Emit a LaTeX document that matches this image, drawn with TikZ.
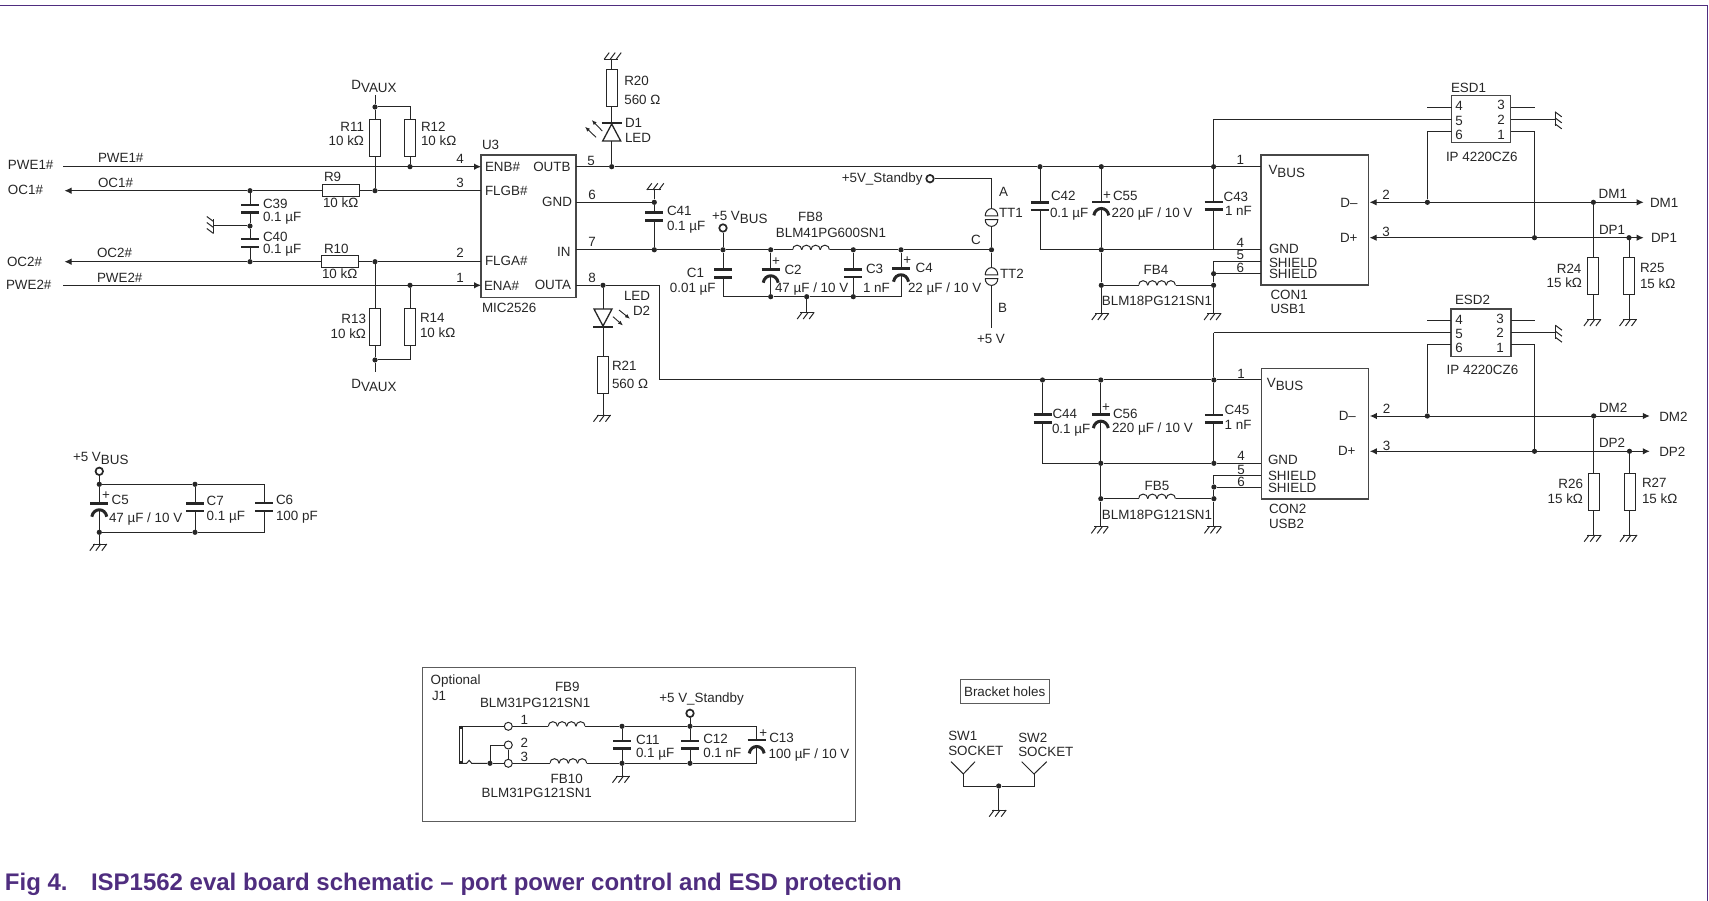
\documentclass[tikz,border=0pt]{standalone}
\usepackage{fontspec}
\setmainfont{Liberation Sans}
\usetikzlibrary{arrows.meta}
\definecolor{nxppurple}{HTML}{4F2D7F}
\definecolor{inkgray}{HTML}{262626}
\newcommand{\lowtxt}[1]{\raisebox{-3.2pt}{#1}}

\tikzset{
  wire/.style={line width=1pt, inkgray},
  arrowed/.style={wire, -{Latex[length=7pt,width=6.5pt]}},
  bothways/.style={wire, {Latex[length=7pt,width=6.5pt]}-{Latex[length=7pt,width=6.5pt]}},
  ray/.style={line width=.9pt, inkgray, -{Latex[length=5pt,width=4pt]}},
  dot/.style={circle, fill=inkgray, inner sep=0pt, minimum size=5.2pt},
  term/.style={circle, draw=inkgray, line width=1.7pt, fill=white, inner sep=0pt, minimum size=7.5pt},
  hole/.style={circle, draw=inkgray, line width=1pt, fill=white, inner sep=0pt, minimum size=8pt},
  resv/.style={draw=inkgray, line width=1pt, fill=white, inner sep=0pt, outer sep=0pt, minimum width=11pt, minimum height=37pt},
  resh/.style={draw=inkgray, line width=1pt, fill=white, inner sep=0pt, outer sep=0pt, minimum width=37pt, minimum height=11.4pt},
  plate/.style={line width=2.6pt, inkgray},
  capv/.style={inner sep=0pt, outer sep=0pt, minimum width=18pt, minimum height=7.7pt,
    append after command={(\tikzlastnode.north west) edge[plate] (\tikzlastnode.north east)
      (\tikzlastnode.south west) edge[plate] (\tikzlastnode.south east)}},
  pcapv/.style={inner sep=0pt, outer sep=0pt, minimum width=18pt, minimum height=13.4pt,
    append after command={(\tikzlastnode.north west) edge[plate] (\tikzlastnode.north east)
      ([xshift=1.5pt]\tikzlastnode.south west) edge[line width=3pt, inkgray, out=80, in=100, looseness=1.6] ([xshift=-1.5pt]\tikzlastnode.south east)}},
  ferrite/.style={inner sep=0pt, outer sep=0pt, minimum width=37pt, minimum height=12pt,
    path picture={\foreach \k in {0,1,2,3}{\draw[wire] ([xshift=\k*9.25pt]path picture bounding box.west) arc[start angle=180, end angle=0, radius=4.625pt];}}},
  chip/.style={draw=inkgray!85, line width=1.1pt, inner sep=0pt, outer sep=0pt},
  txt/.style={inner sep=0pt, outer sep=0pt, text=inkgray, text height=9.6pt, text depth=0pt, font=\fontsize{13.4}{16}\selectfont},
  lbl/.style={txt, anchor=west},
  lbe/.style={txt, anchor=east},
  lbm/.style={txt},
  capttl/.style={txt, anchor=west, text=nxppurple, text height=15pt, font=\fontsize{24}{28}\selectfont\bfseries},
  gnd/.pic={
    \coordinate (-t) at (0,0);
    \draw[wire] (-6.5,0) -- (7.5,0);
    \draw[wire] (-4.5,0) -- (-9.5,6.7) (1.5,0) -- (-3.5,6.7) (7.5,0) -- (2.5,6.7);
  },
  led/.pic={
    \coordinate (-k) at (0,-9.3);
    \coordinate (-a) at (0,9);
    \draw[line width=1.3pt, inkgray, fill=white] (-9,9) -- (9,9) -- (0,-8) -- cycle;
    \draw[line width=2.2pt, inkgray] (-10,-9.3) -- (10,-9.3);
  },
  testp/.pic={
    \coordinate (-a) at (0,-8.9);
    \coordinate (-b) at (0,8.9);
    \draw[wire] (-6.3,-1.6) -- (6.3,-1.6) arc[start angle=0, end angle=180, x radius=6.3pt, y radius=7.3pt];
    \draw[wire] (-6.3,2.2) -- (6.3,2.2) arc[start angle=0, end angle=-180, x radius=6.3pt, y radius=6.7pt];
  }
}

\begin{document}
\begin{tikzpicture}[x=1pt, y=-1pt]
\useasboundingbox (0,0) rectangle (1709,901);

% Frame and caption
\draw[nxppurple, line width=1.5pt] (0,5.5) -- (1707.6,5.5) -- (1707.6,901);
\node[capttl] (figno) at (5,883) {Fig 4.};
\node[capttl] (figtitle) at (91,883) {ISP1562 eval board schematic – port power control and ESD protection};

% U3
\node[chip, minimum width=95pt, minimum height=142.3pt] (U3) at (528.5,226.15) {};
\node[lbl] (tU3) at (482,145) {U3};
\node[lbl] (tMIC) at (482,308) {MIC2526};
\node[lbl] (tENB) at (485,167) {ENB\#};
\node[lbl] (tFLGB) at (485,191) {FLGB\#};
\node[lbl] (tFLGA) at (485,261) {FLGA\#};
\node[lbl] (tENA) at (484,286) {ENA\#};
\node[lbe] (tOUTB) at (570.5,167) {OUTB};
\node[lbe] (tGND) at (572,202) {GND};
\node[lbe] (tIN) at (570.5,251.7) {IN};
\node[lbe] (tOUTA) at (571,285) {OUTA};
\coordinate (u3enb) at (481,166.7);
\coordinate (u3flgb) at (481,190.7);
\coordinate (u3flga) at (481,261.7);
\coordinate (u3ena) at (481,285.3);
\coordinate (u3outb) at (576,166.7);
\coordinate (u3gnd) at (576,202.3);
\coordinate (u3in) at (576,249.8);
\coordinate (u3outa) at (576,285.3);
\node[lbm] (tp4) at (460,159) {4};
\node[lbm] (tp3) at (460,183) {3};
\node[lbm] (tp2) at (460,253) {2};
\node[lbm] (tp1) at (460,278) {1};
\node[lbm] (tp5) at (591,160.7) {5};
\node[lbm] (tp6) at (592,195) {6};
\node[lbm] (tp7) at (592,242) {7};
\node[lbm] (tp8) at (592,278) {8};

% Left inputs and outputs
\node[lbl] (tPWE1o) at (8,165) {PWE1\#};
\node[lbl] (tOC1o) at (8,189.5) {OC1\#};
\node[lbl] (tOC2o) at (7,261.7) {OC2\#};
\node[lbl] (tPWE2o) at (6,285) {PWE2\#};
\node[lbl] (tPWE1n) at (98,158) {PWE1\#};
\node[lbl] (tOC1n) at (98,183) {OC1\#};
\node[lbl] (tOC2n) at (97,253) {OC2\#};
\node[lbl] (tPWE2n) at (97,277.5) {PWE2\#};
\coordinate (pwe1in) at (63.3,166.7);
\coordinate (oc1out) at (64.5,190.7);
\coordinate (oc2out) at (64.5,261.7);
\coordinate (pwe2in) at (63.3,285.3);
\draw[arrowed] (pwe1in) -- (u3enb);
\draw[arrowed] (pwe2in) -- (u3ena);

% Pull ups
\node[dot] (jtop) at (375,107) {};
\node[dot] (jbot) at (375,360) {};
\node[dot] (jR12) at (410,166.7) {};
\node[dot] (jR9) at (375,190.7) {};
\node[dot] (jC39) at (250,190.7) {};
\node[dot] (jmid) at (250,226) {};
\node[dot] (jC40) at (250,261.7) {};
\node[dot] (jR10) at (375,261.7) {};
\node[dot] (jR14) at (410,285.3) {};
\coordinate (dvauxT) at (375,95);
\coordinate (dvauxB) at (375,372);
\coordinate (cnrT) at (410,107);
\coordinate (cnrB) at (410,360);
\node[resv] (R11) at (375,138.5) {};
\node[resv] (R12) at (410,138.5) {};
\node[resv] (R13) at (375,327.3) {};
\node[resv] (R14) at (410,327.3) {};
\node[resh] (R9) at (340.8,190.7) {};
\node[resh] (R10) at (339.5,261.7) {};
\node[capv] (C39) at (250,208.9) {};
\node[capv] (C40) at (250,243) {};
\pic[rotate=-90] (g39) at (213.5,226) {gnd};
\draw[wire] (dvauxT) -- (jtop) -- (R11) -- (jR9);
\draw[wire] (jtop) -- (cnrT) -- (R12) -- (jR12);
\draw[wire] (jR10) -- (R13) -- (jbot) -- (dvauxB);
\draw[wire] (jR14) -- (R14) -- (cnrB) -- (jbot);
\draw[wire] (u3flgb) -- (jR9) -- (R9) -- (jC39);
\draw[arrowed] (jC39) -- (oc1out);
\draw[wire] (u3flga) -- (jR10) -- (R10) -- (jC40);
\draw[arrowed] (jC40) -- (oc2out);
\draw[wire] (jC39) -- (C39) -- (jmid) -- (C40) -- (jC40);
\draw[wire] (jmid) -- (g39-t);
\node[lbm] (tDVt) at (374,85) {D\lowtxt{VAUX}};
\node[lbm] (tDVb) at (374,384) {D\lowtxt{VAUX}};
\node[lbe] (tR11a) at (364,127) {R11};
\node[lbe] (tR11b) at (364,141) {10 kΩ};
\node[lbl] (tR12a) at (421,127) {R12};
\node[lbl] (tR12b) at (421,141) {10 kΩ};
\node[lbe] (tR13a) at (366,319) {R13};
\node[lbe] (tR13b) at (366,334) {10 kΩ};
\node[lbl] (tR14a) at (420,318) {R14};
\node[lbl] (tR14b) at (420,333) {10 kΩ};
\node[lbl] (tR9a) at (324,177) {R9};
\node[lbl] (tR9b) at (323,203) {10 kΩ};
\node[lbl] (tR10a) at (324,249) {R10};
\node[lbl] (tR10b) at (322,274) {10 kΩ};
\node[lbl] (tC39a) at (263,204) {C39};
\node[lbl] (tC39b) at (263,216.7) {0.1 µF};
\node[lbl] (tC40a) at (263,237) {C40};
\node[lbl] (tC40b) at (263,249) {0.1 µF};

% LEDs
\pic (g20) at (611.7,59.3) [rotate=180] {gnd};
\node[resv] (R20) at (611.7,87.6) {};
\pic (D1) at (611.7,132) {led};
\node[dot] (jD1) at (611.7,166.7) {};
\draw[wire] (g20-t) -- (R20) -- (D1-k);
\draw[wire] (D1-a) -- (jD1);
\draw[ray] (602.3,131) -- (591.7,120);
\draw[ray] (596,137.3) -- (585,126.7);
\node[lbl] (tR20a) at (624.3,80.7) {R20};
\node[lbl] (tR20b) at (624.3,99.3) {560 Ω};
\node[lbl] (tD1a) at (625,122.3) {D1};
\node[lbl] (tD1b) at (625,137.3) {LED};
\node[dot] (jOutA) at (603,285.3) {};
\pic[rotate=180] (D2) at (603,318) {led};
\node[resv] (R21) at (603,375) {};
\pic (g21) at (603,415) {gnd};
\draw[wire] (jOutA) -- (D2-a);
\draw[wire] (D2-k) -- (R21) -- (g21-t);
\draw[ray] (613,316.7) -- (623,325.5);
\draw[ray] (619,310) -- (630,318.8);
\node[lbl] (tD2a) at (624,295.3) {LED};
\node[lbl] (tD2b) at (633,310.3) {D2};
\node[lbl] (tR21a) at (612,365.3) {R21};
\node[lbl] (tR21b) at (612,383.3) {560 Ω};

% Input filter
\node[dot] (jC41t) at (654.3,202.3) {};
\node[dot] (jC41b) at (654.3,249.8) {};
\node[dot] (j5v) at (723,249.8) {};
\node[dot] (jC2t) at (770.7,249.8) {};
\node[dot] (jC3t) at (853.3,249.8) {};
\node[dot] (jC4t) at (901,249.8) {};
\node[dot] (jTT) at (991.5,249.8) {};
\node[dot] (jC2b) at (770.7,296.7) {};
\node[dot] (jfgnd) at (806.7,296.7) {};
\node[dot] (jC3b) at (853.3,296.7) {};
\coordinate (cC1b) at (723,296.7);
\coordinate (cC4b) at (901,296.7);
\node[term] (t5vbus) at (723,228) {};
\node[capv] (C41) at (654.3,216.5) {};
\node[capv] (C1) at (723,273.5) {};
\node[pcapv] (C2) at (770.7,276) {};
\node[capv] (C3) at (853.3,273.1) {};
\node[pcapv] (C4) at (901,275) {};
\node[ferrite] (FB8) at (811,249.8) {};
\pic[rotate=180] (g41) at (654.3,190) {gnd};
\pic (gf) at (806.7,312.3) {gnd};
\draw[wire] (u3gnd) -- (jC41t);
\draw[wire] (g41-t) -- (jC41t) -- (C41) -- (jC41b);
\draw[wire] (u3in) -- (jC41b) -- (j5v) -- (jC2t) -- (FB8.west);
\draw[wire] (FB8.east) -- (jC3t) -- (jC4t) -- (jTT);
\draw[wire] (t5vbus) -- (j5v) -- (C1) -- (cC1b) -- (jC2b) -- (jfgnd) -- (jC3b) -- (cC4b);
\draw[wire] (jC2t) -- (C2);
\draw[wire] (C2.center) -- (jC2b);
\draw[wire] (jC3t) -- (C3) -- (jC3b);
\draw[wire] (jC4t) -- (C4);
\draw[wire] (C4.center) -- (cC4b);
\draw[wire] (jfgnd) -- (gf-t);
\node[lbl] (tC41a) at (667,211) {C41};
\node[lbl] (tC41b) at (667,226) {0.1 µF};
\node[lbl] (t5vb) at (712,216) {+5 V\lowtxt{BUS}};
\node[lbe] (tC1a) at (704,273) {C1};
\node[lbe] (tC1b) at (715.6,287.7) {0.01 µF};
\node[lbm] (tC2p) at (776,261) {+};
\node[lbl] (tC2a) at (784.5,269.3) {C2};
\node[lbl] (tC2b) at (775,287.3) {47 µF / 10 V};
\node[lbl] (tC3a) at (866,268.3) {C3};
\node[lbl] (tC3b) at (863,287.3) {1 nF};
\node[lbm] (tC4p) at (907.3,260) {+};
\node[lbl] (tC4a) at (915.7,268) {C4};
\node[lbl] (tC4b) at (908,287.3) {22 µF / 10 V};
\node[lbm] (tFB8a) at (810.5,216.7) {FB8};
\node[lbm] (tFB8b) at (831,232.7) {BLM41PG600SN1};

% Test points
\node[term] (t5vs) at (930,178.7) {};
\coordinate (cTT) at (991.5,178.7);
\pic (TT1) at (991.5,217.5) {testp};
\pic (TT2) at (991.5,276.5) {testp};
\coordinate (e5v) at (991.5,327.7);
\draw[wire] (t5vs) -- (cTT) -- (TT1-a);
\draw[wire] (TT1-b) -- (jTT) -- (TT2-a);
\draw[wire] (TT2-b) -- (e5v);
\node[lbe] (t5vst) at (922.6,178) {+5V\_Standby};
\node[lbl] (tA) at (999,191.7) {A};
\node[lbl] (tTT1) at (999,213) {TT1};
\node[lbl] (tC) at (971,239.3) {C};
\node[lbl] (tTT2) at (1000,274) {TT2};
\node[lbl] (tB) at (998,308) {B};
\node[lbl] (t5v) at (977,339) {+5 V};

% USB1 power
\node[dot] (jC42) at (1040,166.7) {};
\node[dot] (jC55) at (1101.3,166.7) {};
\node[dot] (jC43) at (1213.6,166.7) {};
\node[dot] (jC55b) at (1101.3,249.8) {};
\node[dot] (jFB4l) at (1101.3,285.3) {};
\node[dot] (jFB4r) at (1213.6,285.3) {};
\node[dot] (js6a) at (1213.6,273.7) {};
\coordinate (cC42b) at (1040,249.8);
\coordinate (cC43b) at (1213.6,249.8);
\coordinate (cs5a) at (1213.6,261.7);
\coordinate (cvba) at (1213.6,119.3);
\node[capv] (C42) at (1040,206.2) {};
\node[pcapv] (C55) at (1101.3,208.7) {};
\node[capv] (C43) at (1213.6,205.8) {};
\node[ferrite] (FB4) at (1157,285.3) {};
\pic (g55) at (1101.3,313.3) {gnd};
\pic (gs1) at (1213.6,313.3) {gnd};
\node[chip, minimum width=107.4pt, minimum height=130pt] (CON1) at (1314.7,220) {};
\coordinate (con1v) at (1261,166.7);
\coordinate (con1g) at (1261,249.8);
\coordinate (con1s5) at (1261,261.7);
\coordinate (con1s6) at (1261,273.7);
\coordinate (con1dm) at (1369.6,202.3);
\coordinate (con1dp) at (1369.6,237.7);
\draw[wire] (u3outb) -- (jD1) -- (jC42) -- (jC55) -- (jC43) -- (con1v);
\draw[wire] (jC42) -- (C42) -- (cC42b) -- (jC55b) -- (cC43b) -- (con1g);
\draw[wire] (jC55) -- (C55);
\draw[wire] (C55.center) -- (jC55b) -- (jFB4l) -- (g55-t);
\draw[wire] (jFB4l) -- (FB4.west);
\draw[wire] (FB4.east) -- (jFB4r) -- (gs1-t);
\draw[wire] (cvba) -- (jC43) -- (C43) -- (cC43b);
\draw[wire] (con1s5) -- (cs5a) -- (js6a) -- (jFB4r);
\draw[wire] (js6a) -- (con1s6);
\node[lbl] (tC42a) at (1051,195.3) {C42};
\node[lbl] (tC42b) at (1050,212.3) {0.1 µF};
\node[lbm] (tC55p) at (1107,195) {+};
\node[lbl] (tC55a) at (1113,195.3) {C55};
\node[lbl] (tC55b) at (1111.7,212.3) {220 µF / 10 V};
\node[lbl] (tC43a) at (1223.6,196.7) {C43};
\node[lbl] (tC43b) at (1225,210.7) {1 nF};
\node[lbm] (tFB4a) at (1156,269.3) {FB4};
\node[lbm] (tFB4b) at (1157,301) {BLM18PG121SN1};
\node[lbm] (tq1) at (1240.4,160) {1};
\node[lbm] (tq4) at (1240.4,242.7) {4};
\node[lbm] (tq5) at (1240.4,255) {5};
\node[lbm] (tq6) at (1240.4,267.7) {6};
\node[lbl] (tV1) at (1268.5,169.7) {V\lowtxt{BUS}};
\node[lbl] (tG1) at (1269,248.3) {GND};
\node[lbl] (tS15) at (1269,262.3) {SHIELD};
\node[lbl] (tS16) at (1269,274) {SHIELD};
\node[lbe] (tDm1) at (1357.6,202.7) {D–};
\node[lbl] (tDp1) at (1340,237.3) {D+};
\node[lbl] (tCON1) at (1270.5,294.3) {CON1};
\node[lbl] (tUSB1) at (1270.5,309) {USB1};

% USB1 data and ESD
\node[chip, minimum width=59.3pt, minimum height=47pt] (ESD1) at (1481.15,119.2) {};
\coordinate (e1p4) at (1451.5,107.3);
\coordinate (e1p5) at (1451.5,119.3);
\coordinate (e1p6) at (1451.5,131.3);
\coordinate (e1p3) at (1510.8,107.3);
\coordinate (e1p2) at (1510.8,119.3);
\coordinate (e1p1) at (1510.8,131.3);
\coordinate (e1s4) at (1427.4,107.3);
\coordinate (e1c6) at (1427.4,131.3);
\coordinate (e1s3) at (1534.5,107.3);
\coordinate (e1c1) at (1534.5,131.3);
\coordinate (dm1e) at (1643.6,202.3);
\coordinate (dp1e) at (1643.6,237.7);
\pic[rotate=90] (ge1) at (1555,119.3) {gnd};
\draw[bothways] (con1dm) -- (dm1e);
\draw[bothways] (con1dp) -- (dp1e);
\node[dot] (jdm1) at (1427.4,202.3) {};
\node[dot] (jdp1) at (1534.5,237.7) {};
\node[dot] (jR24) at (1593.4,202.3) {};
\node[dot] (jR25) at (1629,237.7) {};
\node[resv] (R24) at (1593.4,275.9) {};
\node[resv] (R25) at (1629,275.9) {};
\pic (g24) at (1593.4,319.3) {gnd};
\pic (g25) at (1629,319.3) {gnd};
\draw[wire] (cvba) -- (e1p5);
\draw[wire] (e1s4) -- (e1p4);
\draw[wire] (e1p6) -- (e1c6) -- (jdm1);
\draw[wire] (e1p3) -- (e1s3);
\draw[wire] (e1p2) -- (ge1-t);
\draw[wire] (e1p1) -- (e1c1) -- (jdp1);
\draw[wire] (jR24) -- (R24) -- (g24-t);
\draw[wire] (jR25) -- (R25) -- (g25-t);
\node[lbl] (tESD1) at (1451,87.3) {ESD1};
\node[lbl] (tIP1) at (1446,156.7) {IP 4220CZ6};
\node[lbm] (te14) at (1459,106) {4};
\node[lbm] (te15) at (1459,120.7) {5};
\node[lbm] (te16) at (1459,134.3) {6};
\node[lbm] (te13) at (1501,105) {3};
\node[lbm] (te12) at (1501,119.3) {2};
\node[lbm] (te11) at (1501,134.3) {1};
\node[lbm] (tr12) at (1386,194.7) {2};
\node[lbm] (tr13) at (1386,231.7) {3};
\node[lbl] (tDM1n) at (1598.7,193.3) {DM1};
\node[lbl] (tDP1n) at (1599,229.3) {DP1};
\node[lbl] (tDM1o) at (1650,202.7) {DM1};
\node[lbl] (tDP1o) at (1651,237.7) {DP1};
\node[lbe] (tR24a) at (1581.4,268.3) {R24};
\node[lbe] (tR24b) at (1582,282.3) {15 kΩ};
\node[lbl] (tR25a) at (1640,267.7) {R25};
\node[lbl] (tR25b) at (1640,283.3) {15 kΩ};

% USB2 power
\coordinate (cOutA) at (659.3,285.3);
\coordinate (cVb2) at (659.3,380);
\node[dot] (jC44) at (1042.5,380) {};
\node[dot] (jC56) at (1100.8,380) {};
\node[dot] (jC45) at (1213.9,380) {};
\node[dot] (jC56b) at (1100.8,463.3) {};
\node[dot] (jC45b) at (1213.9,463.3) {};
\node[dot] (jFB5l) at (1100.8,498.7) {};
\node[dot] (jFB5r) at (1213.9,498.7) {};
\node[dot] (js6b) at (1213.9,487) {};
\coordinate (cC44b) at (1042.5,463.3);
\coordinate (cs5b) at (1213.9,475);
\coordinate (cvbb) at (1213.9,332.7);
\node[capv] (C44) at (1042.5,418.5) {};
\node[pcapv] (C56) at (1100.8,421.4) {};
\node[capv] (C45) at (1213.9,418.8) {};
\node[ferrite] (FB5) at (1157,498.7) {};
\pic (g56) at (1100.8,526.7) {gnd};
\pic (gs2) at (1213.9,526.7) {gnd};
\node[chip, minimum width=107.1pt, minimum height=130.7pt] (CON2) at (1314.95,433.65) {};
\coordinate (con2v) at (1261.4,380);
\coordinate (con2g) at (1261.4,463.3);
\coordinate (con2s5) at (1261.4,475);
\coordinate (con2s6) at (1261.4,487);
\coordinate (con2dm) at (1369.9,416);
\coordinate (con2dp) at (1369.9,451.3);
\draw[wire] (u3outa) -- (jOutA) -- (cOutA) -- (cVb2) -- (jC44) -- (jC56) -- (jC45) -- (con2v);
\draw[wire] (jC44) -- (C44) -- (cC44b) -- (jC56b) -- (jC45b) -- (con2g);
\draw[wire] (jC56) -- (C56);
\draw[wire] (C56.center) -- (jC56b) -- (jFB5l) -- (g56-t);
\draw[wire] (jFB5l) -- (FB5.west);
\draw[wire] (FB5.east) -- (jFB5r) -- (gs2-t);
\draw[wire] (cvbb) -- (jC45) -- (C45) -- (jC45b);
\draw[wire] (con2s5) -- (cs5b) -- (js6b) -- (jFB5r);
\draw[wire] (js6b) -- (con2s6);
\node[lbl] (tC44a) at (1052.5,413.3) {C44};
\node[lbl] (tC44b) at (1052,428.7) {0.1 µF};
\node[lbm] (tC56p) at (1106,406.7) {+};
\node[lbl] (tC56a) at (1113,413.3) {C56};
\node[lbl] (tC56b) at (1112,427.3) {220 µF / 10 V};
\node[lbl] (tC45a) at (1224.7,410) {C45};
\node[lbl] (tC45b) at (1224.7,424.3) {1 nF};
\node[lbm] (tFB5a) at (1157,485.3) {FB5};
\node[lbm] (tFB5b) at (1157,514.3) {BLM18PG121SN1};
\node[lbm] (tw1) at (1241,374) {1};
\node[lbm] (tw4) at (1241,456) {4};
\node[lbm] (tw5) at (1241,469.3) {5};
\node[lbm] (tw6) at (1241,482) {6};
\node[lbl] (tV2) at (1266.8,383) {V\lowtxt{BUS}};
\node[lbl] (tG2) at (1268,460) {GND};
\node[lbl] (tS25) at (1268,475.3) {SHIELD};
\node[lbl] (tS26) at (1268,487.7) {SHIELD};
\node[lbe] (tDm2) at (1355.9,416) {D–};
\node[lbl] (tDp2) at (1338,450.7) {D+};
\node[lbl] (tCON2) at (1269,508.3) {CON2};
\node[lbl] (tUSB2) at (1269,523.3) {USB2};

% USB2 data and ESD
\node[chip, minimum width=60pt, minimum height=47.7pt] (ESD2) at (1481,332.85) {};
\coordinate (e2p4) at (1451,320.7);
\coordinate (e2p5) at (1451,332.7);
\coordinate (e2p6) at (1451,344.7);
\coordinate (e2p3) at (1511,320.7);
\coordinate (e2p2) at (1511,332.7);
\coordinate (e2p1) at (1511,344.7);
\coordinate (e2s4) at (1427.3,320.7);
\coordinate (e2c6) at (1427.3,344.7);
\coordinate (e2s3) at (1534.5,320.7);
\coordinate (e2c1) at (1534.5,344.7);
\coordinate (dm2e) at (1649.8,416);
\coordinate (dp2e) at (1649.8,451.3);
\pic[rotate=90] (ge2) at (1555.3,332.7) {gnd};
\draw[bothways] (con2dm) -- (dm2e);
\draw[bothways] (con2dp) -- (dp2e);
\node[dot] (jdm2) at (1427.3,416) {};
\node[dot] (jdp2) at (1534.5,451.3) {};
\node[dot] (jR26) at (1593.7,416) {};
\node[dot] (jR27) at (1629.5,451.3) {};
\node[resv] (R26) at (1593.7,491.7) {};
\node[resv] (R27) at (1629.5,491.7) {};
\pic (g26) at (1593.7,535) {gnd};
\pic (g27) at (1629.5,535) {gnd};
\draw[wire] (cvbb) -- (e2p5);
\draw[wire] (e2s4) -- (e2p4);
\draw[wire] (e2p6) -- (e2c6) -- (jdm2);
\draw[wire] (e2p3) -- (e2s3);
\draw[wire] (e2p2) -- (ge2-t);
\draw[wire] (e2p1) -- (e2c1) -- (jdp2);
\draw[wire] (jR26) -- (R26) -- (g26-t);
\draw[wire] (jR27) -- (R27) -- (g27-t);
\node[lbl] (tESD2) at (1455,299.3) {ESD2};
\node[lbl] (tIP2) at (1446.7,369.3) {IP 4220CZ6};
\node[lbm] (te24) at (1459,319.3) {4};
\node[lbm] (te25) at (1459,333.3) {5};
\node[lbm] (te26) at (1459,347.7) {6};
\node[lbm] (te23) at (1500,318.3) {3};
\node[lbm] (te22) at (1500,332.3) {2};
\node[lbm] (te21) at (1500,347.7) {1};
\node[lbm] (tr22) at (1386.6,409) {2};
\node[lbm] (tr23) at (1386.6,445.3) {3};
\node[lbl] (tDM2n) at (1599,407.3) {DM2};
\node[lbl] (tDP2n) at (1599,442.7) {DP2};
\node[lbl] (tDM2o) at (1659.3,416.3) {DM2};
\node[lbl] (tDP2o) at (1659.3,451.7) {DP2};
\node[lbe] (tR26a) at (1583,483.3) {R26};
\node[lbe] (tR26b) at (1583,498.7) {15 kΩ};
\node[lbl] (tR27a) at (1642,482.3) {R27};
\node[lbl] (tR27b) at (1642,498.7) {15 kΩ};

% Bulk capacitors
\node[term] (t5vc) at (99.3,471.3) {};
\node[dot] (jC5t) at (99.3,484.3) {};
\node[dot] (jC7t) at (195,484.3) {};
\node[dot] (jC5b) at (99.3,532.3) {};
\node[dot] (jC7b) at (195,532.3) {};
\coordinate (cC6t) at (264,484.3);
\coordinate (cC6b) at (264,532.3);
\node[pcapv] (C5) at (99.3,510) {};
\node[capv] (C7) at (195,507.3) {};
\node[capv] (C6) at (264,507) {};
\pic (g5) at (99.3,544) {gnd};
\draw[wire] (t5vc) -- (jC5t) -- (C5);
\draw[wire] (C5.center) -- (jC5b) -- (g5-t);
\draw[wire] (jC5t) -- (jC7t) -- (cC6t) -- (C6) -- (cC6b) -- (jC7b) -- (jC5b);
\draw[wire] (jC7t) -- (C7) -- (jC7b);
\node[lbl] (t5vd) at (73,456.7) {+5 V\lowtxt{BUS}};
\node[lbm] (tC5p) at (106,495) {+};
\node[lbl] (tC5a) at (111.7,499.3) {C5};
\node[lbl] (tC5b) at (109,517.3) {47 µF / 10 V};
\node[lbl] (tC7a) at (206.7,501) {C7};
\node[lbl] (tC7b) at (206.7,515.3) {0.1 µF};
\node[lbl] (tC6a) at (276,500) {C6};
\node[lbl] (tC6b) at (276,515.3) {100 pF};

% J1 option
\node[chip, draw=inkgray!75, minimum width=432.6pt, minimum height=154.4pt] (J1box) at (639,744.5) {};
\coordinate (barT) at (460.7,726.3);
\coordinate (barB) at (460.7,763.3);
\node[hole] (h1) at (508.3,726.3) {};
\node[hole] (h2) at (508.3,745) {};
\node[hole] (h3) at (508.3,763.3) {};
\node[dot] (j23) at (490,763.3) {};
\coordinate (c23) at (490,745);
\node[ferrite] (FB9) at (566.7,726.3) {};
\node[ferrite] (FB10) at (568.3,763.3) {};
\node[dot] (jC11t) at (622,726.3) {};
\node[dot] (jC12t) at (690,726.3) {};
\node[dot] (jC11b) at (622,763.3) {};
\node[dot] (jC12b) at (690,763.3) {};
\coordinate (cC13t) at (756.7,726.3);
\coordinate (cC13b) at (756.7,763.3);
\node[term] (t5vj) at (690,713.3) {};
\node[capv] (C11) at (622,744.7) {};
\node[capv] (C12) at (690,744.7) {};
\node[pcapv] (C13) at (756.7,746.7) {};
\pic (g11) at (622,776) {gnd};
\draw[wire] (barT) -- (h1);
\draw[wire] (h1) -- (FB9.west);
\draw[wire] (FB9.east) -- (jC11t) -- (jC12t) -- (cC13t) -- (C13);
\draw[wire] (C13.center) -- (cC13b) -- (jC12b) -- (jC11b) -- (FB10.east);
\draw[wire] (FB10.west) -- (h3) -- (h2);
\draw[wire] (h3) -- (j23);
\draw[wire] (j23) -- (c23) -- (h2);
\draw[wire] (j23) -- (471.7,763.3) -- (469.2,760.4) -- (466.7,763.3) -- (barB);
\draw[line width=3pt, inkgray] (460.7,725.5) -- (460.7,729);
\draw[line width=3pt, inkgray] (460.7,760.5) -- (460.7,764);
\draw[wire] (459.2,726.3) rectangle (462.2,763.3);
\draw[wire] (t5vj) -- (jC12t) -- (C12) -- (jC12b);
\draw[wire] (jC11t) -- (C11) -- (jC11b) -- (g11-t);
\node[lbl] (tOpt) at (430.7,679.3) {Optional};
\node[lbl] (tJ1) at (432,696) {J1};
\node[lbm] (tFB9a) at (567.3,686.7) {FB9};
\node[lbl] (tFB9b) at (480,702.3) {BLM31PG121SN1};
\node[lbl] (t5vsj) at (659.3,697.7) {+5 V\_Standby};
\node[lbl] (th1) at (520.5,720) {1};
\node[lbl] (th2) at (520.5,742.7) {2};
\node[lbl] (th3) at (520.5,756.7) {3};
\node[lbm] (tFB10a) at (566.7,778.3) {FB10};
\node[lbl] (tFB10b) at (481.7,792.7) {BLM31PG121SN1};
\node[lbl] (tC11a) at (636,740) {C11};
\node[lbl] (tC11b) at (636,752.7) {0.1 µF};
\node[lbl] (tC12a) at (703.3,738.3) {C12};
\node[lbl] (tC12b) at (703.3,752.7) {0.1 nF};
\node[lbm] (tC13p) at (763.3,732.7) {+};
\node[lbl] (tC13a) at (769.3,737.3) {C13};
\node[lbl] (tC13b) at (768.7,753.3) {100 µF / 10 V};

% Bracket holes
\node[chip, draw=inkgray!75, line width=1pt, minimum width=89.3pt, minimum height=24pt, txt] (brk) at (1004.65,691.3) {Bracket holes};
\coordinate (sw1l) at (951,761.7);
\coordinate (sw1r) at (975,761.7);
\coordinate (sw1m) at (963.3,774);
\coordinate (sw1b) at (963.3,786);
\coordinate (sw2l) at (1021.7,761.7);
\coordinate (sw2r) at (1046.7,761.7);
\coordinate (sw2m) at (1034,774);
\coordinate (sw2b) at (1034,786);
\node[dot] (jsw) at (998.7,786) {};
\pic (gsw) at (998.7,810) {gnd};
\draw[wire] (sw1l) -- (sw1m) -- (sw1r);
\draw[wire] (sw2l) -- (sw2m) -- (sw2r);
\draw[wire] (sw1m) -- (sw1b) -- (jsw) -- (sw2b) -- (sw2m);
\draw[wire] (jsw) -- (gsw-t);
\node[lbl] (tSW1a) at (948.3,736) {SW1};
\node[lbl] (tSW1b) at (948.3,750.7) {SOCKET};
\node[lbl] (tSW2a) at (1018.3,737.3) {SW2};
\node[lbl] (tSW2b) at (1018.3,751.7) {SOCKET};

\end{tikzpicture}
\end{document}
